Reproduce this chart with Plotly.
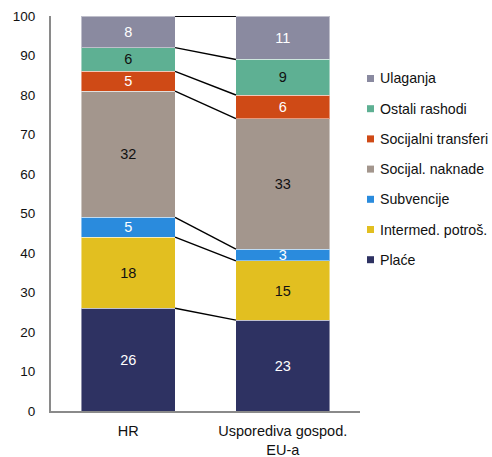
import plotly.graph_objects as go
import numpy as np

# Structure of expenditure (% of total), bottom to top
categories = ["HR", "Usporediva gospod.<br>EU-a"]
series_names = ["Plaće", "Intermed. potroš.", "Subvencije", "Socijal. naknade",
                "Socijalni transferi", "Ostali rashodi", "Ulaganja"]
values_hr = [26, 18, 5, 32, 5, 6, 8]
values_eu = [23, 15, 3, 33, 6, 9, 11]
y_ticks = [0, 10, 20, 30, 40, 50, 60, 70, 80, 90, 100]

colors = ["#2E3262", "#E2BF20", "#2A8BDD", "#A3968D", "#CF4A16", "#5EB093", "#8A8AA0"]
text_colors = ["white", "#111111", "white", "#111111", "white", "#111111", "white"]

FONT = "Liberation Sans, Arial, sans-serif"
W, H = 492, 457
M_L, M_R, M_T, M_B = 51, 132, 16, 46
BAR_W = 0.606

fig = go.Figure()

for i, name in enumerate(series_names):
    vals = [values_hr[i], values_eu[i]]
    fig.add_trace(go.Bar(
        x=[0, 1], y=vals, name=name,
        marker=dict(color=colors[i], line=dict(color="rgba(255,255,255,0.45)", width=1)),
        width=BAR_W,
        text=[str(v) for v in vals],
        textposition="inside", insidetextanchor="middle", textangle=0,
        textfont=dict(family=FONT, size=14.5, color=text_colors[i]),
        showlegend=False, hoverinfo="skip",
    ))

# Connector lines between segment tops of the two bars
cum_hr = np.cumsum(values_hr)
cum_eu = np.cumsum(values_eu)
for a, b in zip(cum_hr, cum_eu):
    fig.add_trace(go.Scatter(
        x=[0 + BAR_W / 2, 1 - BAR_W / 2], y=[a, b], mode="lines",
        line=dict(color="black", width=1.4 if a < 100 else 2.2),
        showlegend=False, hoverinfo="skip", cliponaxis=False,
    ))

fig.update_layout(
    barmode="stack",
    width=W, height=H,
    margin=dict(l=M_L, r=M_R, t=M_T, b=M_B, pad=0, autoexpand=False),
    paper_bgcolor="white", plot_bgcolor="white",
    font=dict(family=FONT, size=14, color="#111111"),
    uniformtext=dict(minsize=14.5, mode="show"),
    xaxis=dict(
        range=[-0.5, 1.5], tickmode="array", tickvals=[0, 1], ticktext=categories,
        showgrid=False, zeroline=False, showline=True, linecolor="#8A8A8A", linewidth=2,
        ticks="", tickfont=dict(size=14.5), ticklabelstandoff=6, automargin=False,
    ),
    yaxis=dict(
        range=[0, 100], tickmode="array", tickvals=y_ticks,
        showgrid=False, zeroline=False, showline=True, linecolor="#8A8A8A", linewidth=2,
        ticks="", tickfont=dict(size=13.5), ticklabelstandoff=11, automargin=False,
    ),
)

# Legend drawn as small squares with labels, top to bottom
plot_w = W - M_L - M_R
plot_h = H - M_T - M_B

def px_x(p):
    return (p - M_L) / plot_w

def px_y(p):
    return 1 - (p - M_T) / plot_h

legend_top = 78.5
legend_step = 30.2
for k, i in enumerate(reversed(range(len(series_names)))):
    yc = legend_top + k * legend_step
    fig.add_shape(type="rect", xref="paper", yref="paper",
                  x0=px_x(367), x1=px_x(374), y0=px_y(yc + 3.5), y1=px_y(yc - 3.5),
                  fillcolor=colors[i], line=dict(width=0))
    fig.add_annotation(xref="paper", yref="paper", x=px_x(378.5), y=px_y(yc),
                       text=series_names[i], showarrow=False, xanchor="left", yanchor="middle",
                       font=dict(family=FONT, size=14.2, color="#111111"))

fig.write_html("out.html")
